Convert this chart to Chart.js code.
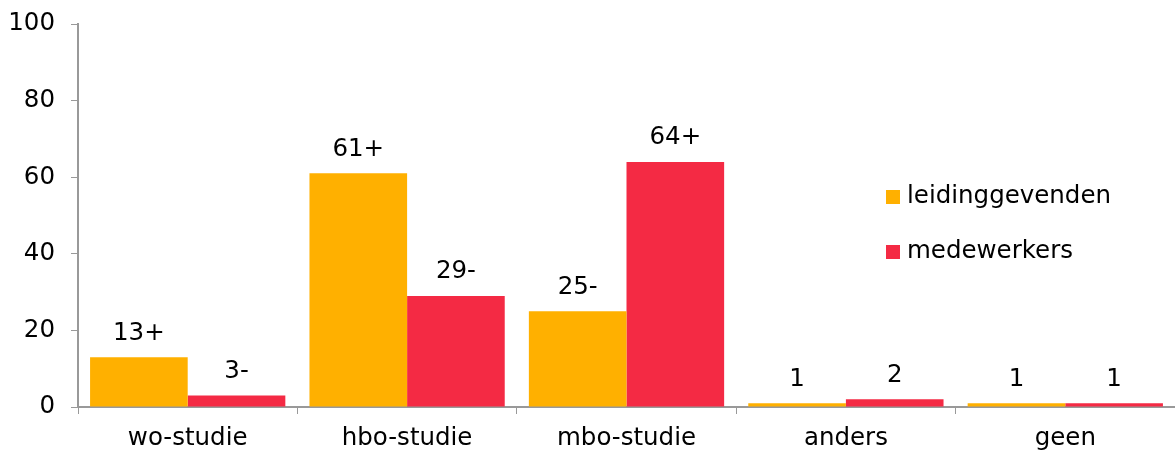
<!DOCTYPE html>
<html>
<head>
<meta charset="utf-8">
<script src="https://cdn.jsdelivr.net/npm/chart.js@4.4.1/dist/chart.umd.min.js"></script>
<style>
html,body{margin:0;padding:0;background:#fff;}
#wrap{width:1175px;height:452px;position:relative;}
</style>
</head>
<body>
<div id="wrap"><canvas id="c"></canvas></div>
<script>
const categories = ['wo-studie', 'hbo-studie', 'mbo-studie', 'anders', 'geen'];
const leidinggevenden = [13, 61, 25, 1, 1];
const medewerkers = [3, 29, 64, 2, 1];
const labelsLeiding = ['13+', '61+', '25-', '1', '1'];
const labelsMedewerkers = ['3-', '29-', '64+', '2', '1'];
const yTicks = [0, 20, 40, 60, 80, 100];

const FONT = "'DejaVu Sans', Verdana, sans-serif";
const FS = 24.5;
const AXIS = '#999999';

const valueLabels = {
  id: 'valueLabels',
  afterDatasetsDraw(chart) {
    const ctx = chart.ctx;
    const texts = [labelsLeiding, labelsMedewerkers];
    ctx.save();
    ctx.font = FS + 'px ' + FONT;
    ctx.fillStyle = '#000';
    ctx.textAlign = 'center';
    ctx.textBaseline = 'middle';
    chart.data.datasets.forEach((ds, i) => {
      const meta = chart.getDatasetMeta(i);
      meta.data.forEach((bar, j) => {
        ctx.fillText(texts[i][j], bar.x, bar.y - 24);
      });
    });
    ctx.restore();
  }
};

const customLegend = {
  id: 'customLegend',
  afterDraw(chart) {
    const ctx = chart.ctx;
    ctx.save();
    ctx.font = FS + 'px ' + FONT;
    ctx.textAlign = 'left';
    ctx.textBaseline = 'middle';
    chart.data.datasets.forEach((ds, i) => {
      const y = 197 + i * 55;
      ctx.fillStyle = ds.backgroundColor;
      ctx.fillRect(886, y - 7, 14, 14);
      ctx.fillStyle = '#000';
      ctx.fillText(ds.label, 907, y);
    });
    ctx.restore();
  }
};

new Chart(document.getElementById('c'), {
  type: 'bar',
  data: {
    labels: categories,
    datasets: [
      { label: 'leidinggevenden', data: leidinggevenden, backgroundColor: '#FFB000', barPercentage: 1.0, categoryPercentage: 0.89 },
      { label: 'medewerkers', data: medewerkers, backgroundColor: '#F42A44', barPercentage: 1.0, categoryPercentage: 0.89 }
    ]
  },
  options: {
    responsive: true,
    maintainAspectRatio: false,
    animation: false,
    layout: { padding: { top: 24, right: 0, left: 0, bottom: 0 } },
    plugins: { legend: { display: false }, tooltip: { enabled: false } },
    scales: {
      x: {
        grid: { display: true, drawOnChartArea: false, drawTicks: true, tickLength: 7, color: AXIS, offset: true },
        border: { color: AXIS, width: 2 },
        ticks: { color: '#000', font: { family: FONT, size: FS }, padding: 10 },
        afterFit(s) { s.height = 45; s.paddingLeft = 0; s.paddingRight = 0; }
      },
      y: {
        min: 0, max: 100,
        afterBuildTicks(s) { s.ticks = yTicks.map(v => ({ value: v })); },
        grid: { display: true, drawOnChartArea: false, drawTicks: true, tickLength: 7, color: AXIS },
        border: { color: AXIS, width: 2 },
        ticks: { color: '#000', font: { family: FONT, size: FS }, padding: 16 },
        afterFit(s) { s.width = 78; s.paddingTop = 0; s.paddingBottom = 0; }
      }
    }
  },
  plugins: [valueLabels, customLegend]
});
</script>
</body>
</html>
